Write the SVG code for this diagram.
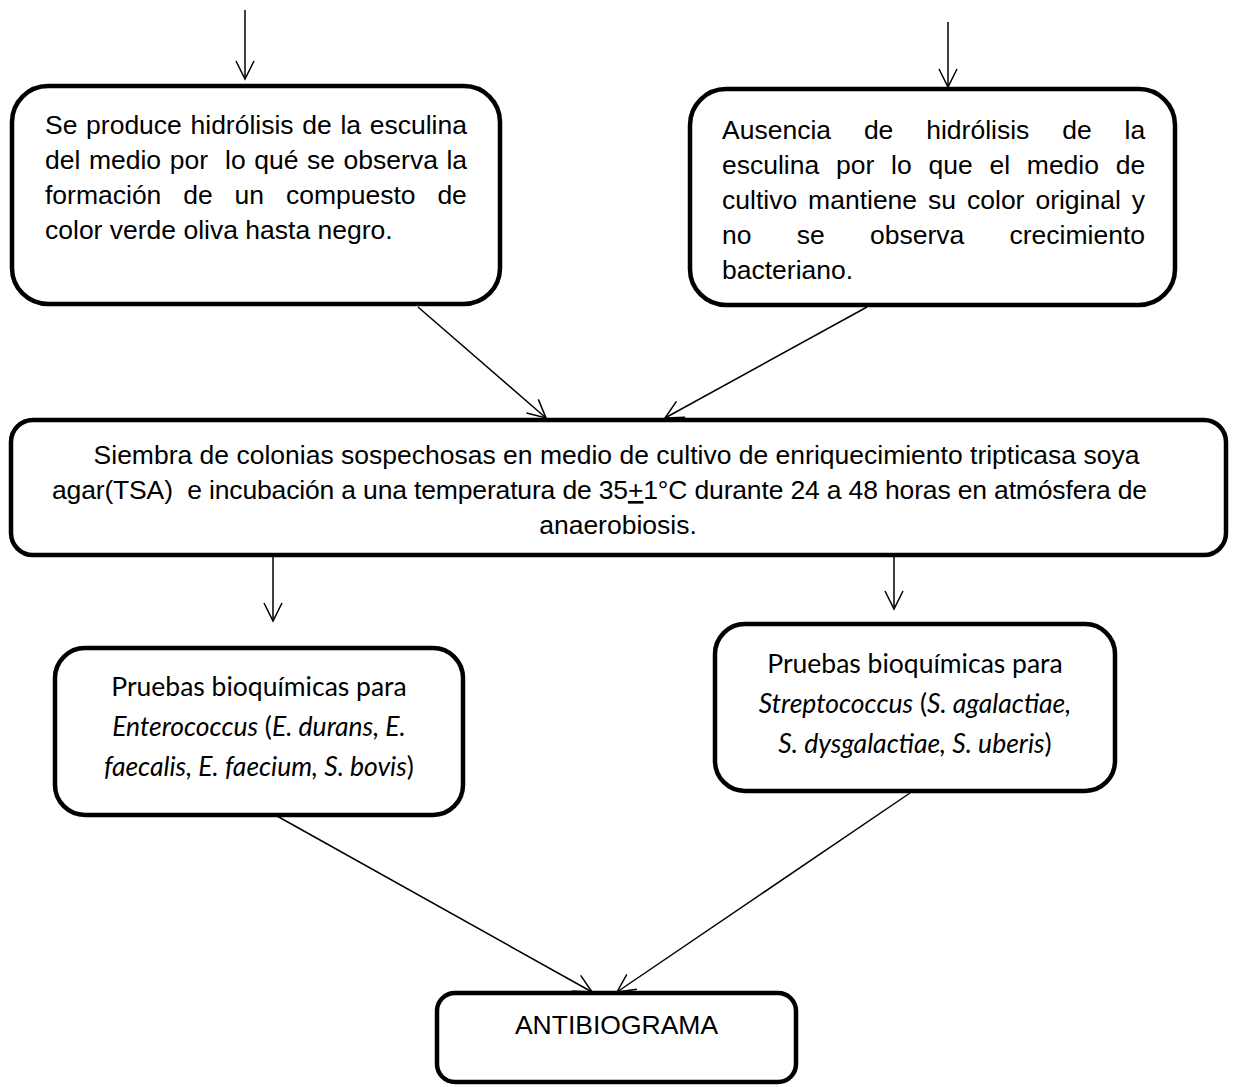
<svg xmlns="http://www.w3.org/2000/svg" width="1233" height="1087" viewBox="0 0 1233 1087">
<defs>
<style>
.box{fill:#fff;stroke:#000;stroke-width:4.5}
.ln{fill:none;stroke:#000;stroke-width:1.5}
.ar{font-family:"Liberation Sans",Arial,sans-serif;font-size:26.5px;fill:#000}
.cb{font-family:Lato,"Open Sans",sans-serif;font-size:26.5px;fill:#000}
.it{font-style:italic}
</style>
<marker id="v" markerUnits="userSpaceOnUse" markerWidth="40" markerHeight="40" viewBox="-20 -20 40 40" refX="0" refY="0" orient="auto" overflow="visible">
<path d="M-18,-9 L0,0 L-18,9" fill="none" stroke="#000" stroke-width="1.5"/>
</marker>
</defs>
<rect width="1233" height="1087" fill="#fff"/>
<g id="connectors">
<line class="ln" x1="245" y1="10" x2="245" y2="79" marker-end="url(#v)"/>
<line class="ln" x1="948" y1="22" x2="948" y2="87" marker-end="url(#v)"/>
<line class="ln" x1="418" y1="307" x2="546" y2="418" marker-end="url(#v)"/>
<line class="ln" x1="867" y1="307" x2="665" y2="418" marker-end="url(#v)"/>
<line class="ln" x1="273" y1="557" x2="273" y2="621" marker-end="url(#v)"/>
<line class="ln" x1="894" y1="557" x2="894" y2="609" marker-end="url(#v)"/>
<line class="ln" x1="277" y1="816" x2="592" y2="992" marker-end="url(#v)"/>
<line class="ln" x1="910" y1="793" x2="617" y2="992" marker-end="url(#v)"/>
</g>
<g id="node-hidrolisis">
<rect class="box" x="12" y="86" width="488" height="218" rx="36"/>
<text class="ar" x="45" y="134" word-spacing="1.3">Se produce hidrólisis de la esculina</text>
<text class="ar" x="45" y="169" word-spacing="1.2" xml:space="preserve">del medio por  lo qué se observa la</text>
<text class="ar" x="45" y="204" word-spacing="14.5">formación de un compuesto de</text>
<text class="ar" x="45" y="239">color verde oliva hasta negro.</text>
</g>
<g id="node-ausencia">
<rect class="box" x="690" y="89" width="485" height="216" rx="36"/>
<text class="ar" x="722" y="139" word-spacing="25.5">Ausencia de hidrólisis de la</text>
<text class="ar" x="722" y="174" word-spacing="9.4">esculina por lo que el medio de</text>
<text class="ar" x="722" y="209" word-spacing="3.6">cultivo mantiene su color original y</text>
<text class="ar" x="722" y="244" word-spacing="37.9">no se observa crecimiento</text>
<text class="ar" x="722" y="279">bacteriano.</text>
</g>
<g id="node-siembra">
<rect class="box" x="11" y="420" width="1215" height="135" rx="22"/>
<text class="ar" x="616.5" y="464" text-anchor="middle">Siembra de colonias sospechosas en medio de cultivo de enriquecimiento tripticasa soya</text>
<text class="ar" x="52" y="499" textLength="1095" lengthAdjust="spacing" xml:space="preserve">agar(TSA)  e incubación a una temperatura de 35<tspan text-decoration="underline">+</tspan>1°C durante 24 a 48 horas en atmósfera de</text>
<text class="ar" x="618" y="534" text-anchor="middle">anaerobiosis.</text>
</g>
<g id="node-enterococcus">
<rect class="box" x="55" y="648" width="408" height="167" rx="30"/>
<text class="cb" x="259" y="696" text-anchor="middle">Pruebas bioquímicas para</text>
<text class="cb" x="259" y="736" text-anchor="middle"><tspan class="it">Enterococcus</tspan> (<tspan class="it">E. durans, E.</tspan></text>
<text class="cb" x="259" y="776" text-anchor="middle"><tspan class="it">faecalis, E. faecium, S. bovis</tspan>)</text>
</g>
<g id="node-streptococcus">
<rect class="box" x="715" y="624" width="400" height="167" rx="30"/>
<text class="cb" x="915" y="673" text-anchor="middle">Pruebas bioquímicas para</text>
<text class="cb" x="915" y="713" text-anchor="middle"><tspan class="it">Streptococcus</tspan> (<tspan class="it">S. agalactiae,</tspan></text>
<text class="cb" x="915" y="753" text-anchor="middle"><tspan class="it">S. dysgalactiae, S. uberis</tspan>)</text>
</g>
<g id="node-antibiograma">
<rect class="box" x="437" y="993" width="359" height="89" rx="18"/>
<text class="ar" x="616.5" y="1034" text-anchor="middle">ANTIBIOGRAMA</text>
</g>
</svg>
